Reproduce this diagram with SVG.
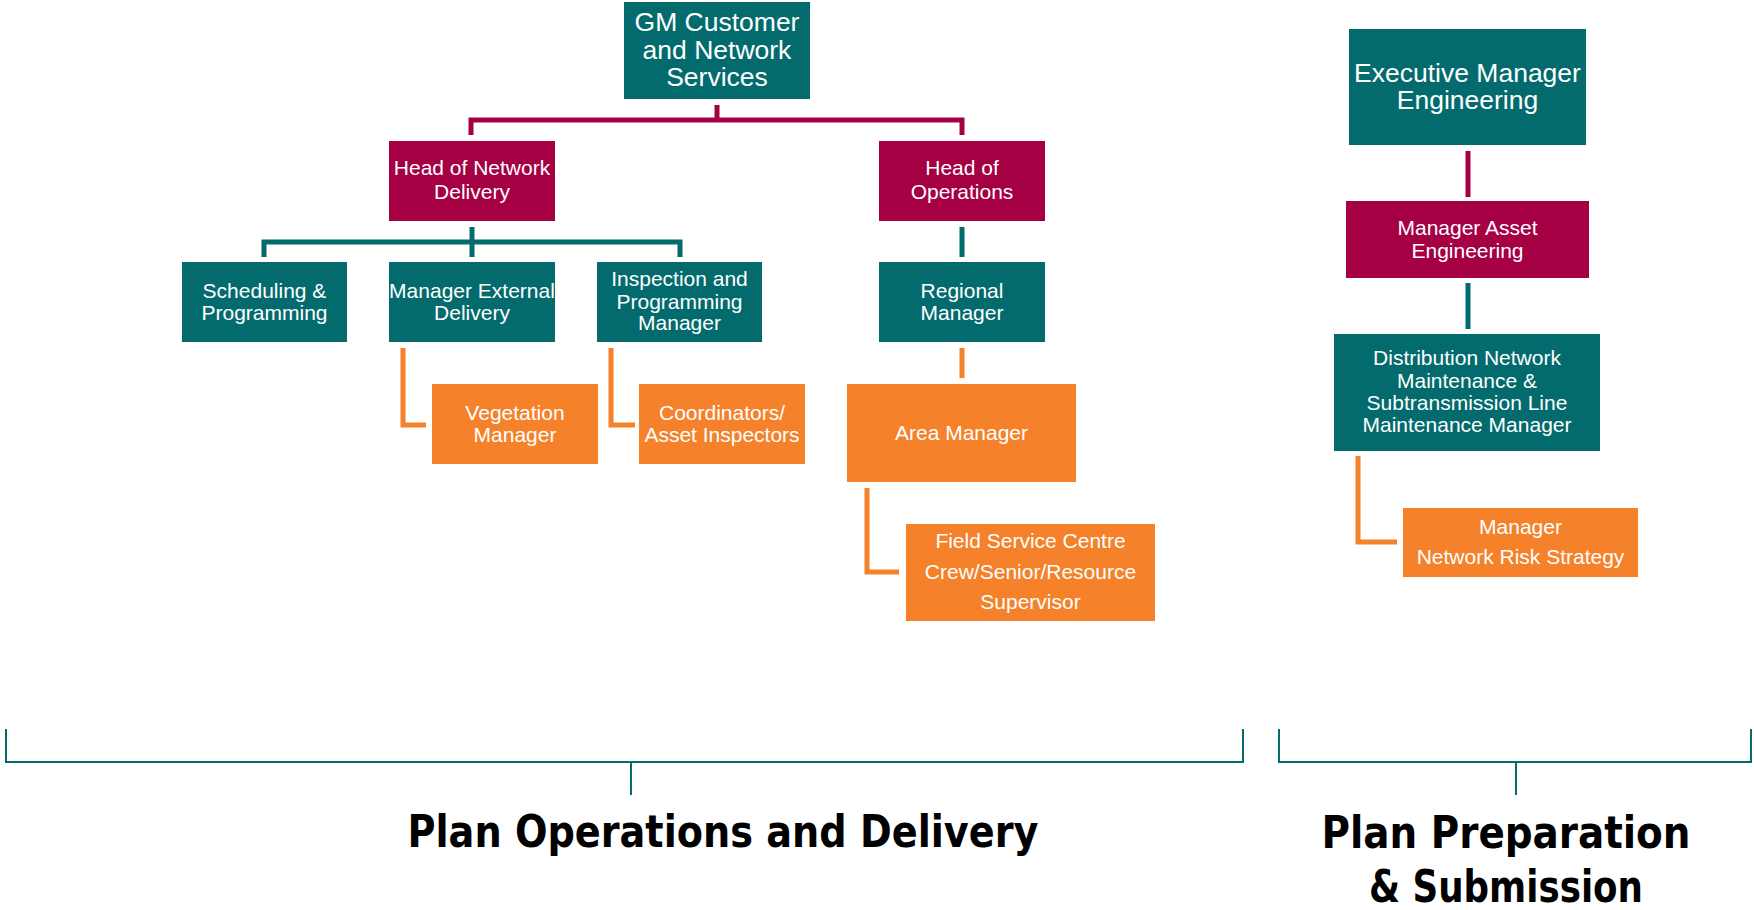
<svg xmlns="http://www.w3.org/2000/svg" width="1754" height="910" viewBox="0 0 1754 910">
<style>
.teal{fill:#036B6D}
.mag{fill:#A50044}
.org{fill:#F5822A}
.t{font-family:"Liberation Sans",Arial,sans-serif;fill:#fff;text-anchor:middle;font-size:21px}
.big{font-size:26.5px}
.cm{stroke:#A50044;stroke-width:5;fill:none}
.ct{stroke:#036B6D;stroke-width:5;fill:none}
.co{stroke:#F5822A;stroke-width:5;fill:none}
.br{stroke:#036B6D;stroke-width:2;fill:none}
.lbl{font-family:"DejaVu Sans Condensed","DejaVu Sans",sans-serif;font-weight:bold;font-size:44px;fill:#000;text-anchor:middle}
</style>
<rect width="1754" height="910" fill="#fff"/>
<g id="connectors">
<path class="cm" d="M717 105V120M471 135V120H962V135"/>
<path class="ct" d="M472 227V257M264 257V242H680V257M962 227V257"/>
<path class="co" d="M403 348V425H426M611 348V425H635M962 348V378M867 488V572H899"/>
<path class="cm" d="M1468 151V197"/>
<path class="ct" d="M1468 283V329"/>
<path class="co" d="M1358 456V542H1397"/>
</g>
<g id="gm"><rect class="teal" x="624" y="2" width="186" height="97"/>
<text class="t big" x="717"><tspan x="717" y="31">GM Customer</tspan><tspan x="717" y="59">and Network</tspan><tspan x="717" y="86">Services</tspan></text></g>
<g id="hond"><rect class="mag" x="389" y="141" width="166" height="80"/>
<text class="t"><tspan x="472" y="175">Head of Network</tspan><tspan x="472" y="199">Delivery</tspan></text></g>
<g id="hoo"><rect class="mag" x="879" y="141" width="166" height="80"/>
<text class="t"><tspan x="962" y="175">Head of</tspan><tspan x="962" y="199">Operations</tspan></text></g>
<g id="sched"><rect class="teal" x="182" y="262" width="165" height="80"/>
<text class="t"><tspan x="264.5" y="298">Scheduling &amp;</tspan><tspan x="264.5" y="320">Programming</tspan></text></g>
<g id="med"><rect class="teal" x="389" y="262" width="166" height="80"/>
<text class="t"><tspan x="472" y="298">Manager External</tspan><tspan x="472" y="320">Delivery</tspan></text></g>
<g id="ipm"><rect class="teal" x="597" y="262" width="165" height="80"/>
<text class="t"><tspan x="679.5" y="286">Inspection and</tspan><tspan x="679.5" y="309">Programming</tspan><tspan x="679.5" y="330">Manager</tspan></text></g>
<g id="regional"><rect class="teal" x="879" y="262" width="166" height="80"/>
<text class="t"><tspan x="962" y="298">Regional</tspan><tspan x="962" y="320">Manager</tspan></text></g>
<g id="veg"><rect class="org" x="432" y="384" width="166" height="80"/>
<text class="t"><tspan x="515" y="420">Vegetation</tspan><tspan x="515" y="442">Manager</tspan></text></g>
<g id="coord"><rect class="org" x="639" y="384" width="166" height="80"/>
<text class="t"><tspan x="722" y="420">Coordinators/</tspan><tspan x="722" y="442">Asset Inspectors</tspan></text></g>
<g id="area"><rect class="org" x="847" y="384" width="229" height="98"/>
<text class="t" x="961.5" y="440">Area Manager</text></g>
<g id="fsc"><rect class="org" x="906" y="524" width="249" height="97"/>
<text class="t"><tspan x="1030.5" y="548">Field Service Centre</tspan><tspan x="1030.5" y="579">Crew/Senior/Resource</tspan><tspan x="1030.5" y="609">Supervisor</tspan></text></g>
<g id="exec"><rect class="teal" x="1349" y="29" width="237" height="116"/>
<text class="t big"><tspan x="1467.5" y="82">Executive Manager</tspan><tspan x="1467.5" y="109">Engineering</tspan></text></g>
<g id="mae"><rect class="mag" x="1346" y="201" width="243" height="77"/>
<text class="t"><tspan x="1467.5" y="235">Manager Asset</tspan><tspan x="1467.5" y="258">Engineering</tspan></text></g>
<g id="dnm"><rect class="teal" x="1334" y="334" width="266" height="117"/>
<text class="t"><tspan x="1467" y="365">Distribution Network</tspan><tspan x="1467" y="388">Maintenance &amp;</tspan><tspan x="1467" y="410">Subtransmission Line</tspan><tspan x="1467" y="432">Maintenance Manager</tspan></text></g>
<g id="mnrs"><rect class="org" x="1403" y="508" width="235" height="69"/>
<text class="t"><tspan x="1520.5" y="534">Manager</tspan><tspan x="1520.5" y="564">Network Risk Strategy</tspan></text></g>
<g id="brackets">
<path class="br" d="M6 729V762H1243V729M631 762V795"/>
<path class="br" d="M1279 729V762H1751V729M1516 762V795"/>
</g>
<g id="labels">
<text class="lbl" x="723" y="847" textLength="631" lengthAdjust="spacingAndGlyphs">Plan Operations and Delivery</text>
<text class="lbl" x="1506" y="848" textLength="369" lengthAdjust="spacingAndGlyphs">Plan Preparation</text>
<text class="lbl" x="1506" y="902" textLength="274" lengthAdjust="spacingAndGlyphs">&amp; Submission</text>
</g>
</svg>
